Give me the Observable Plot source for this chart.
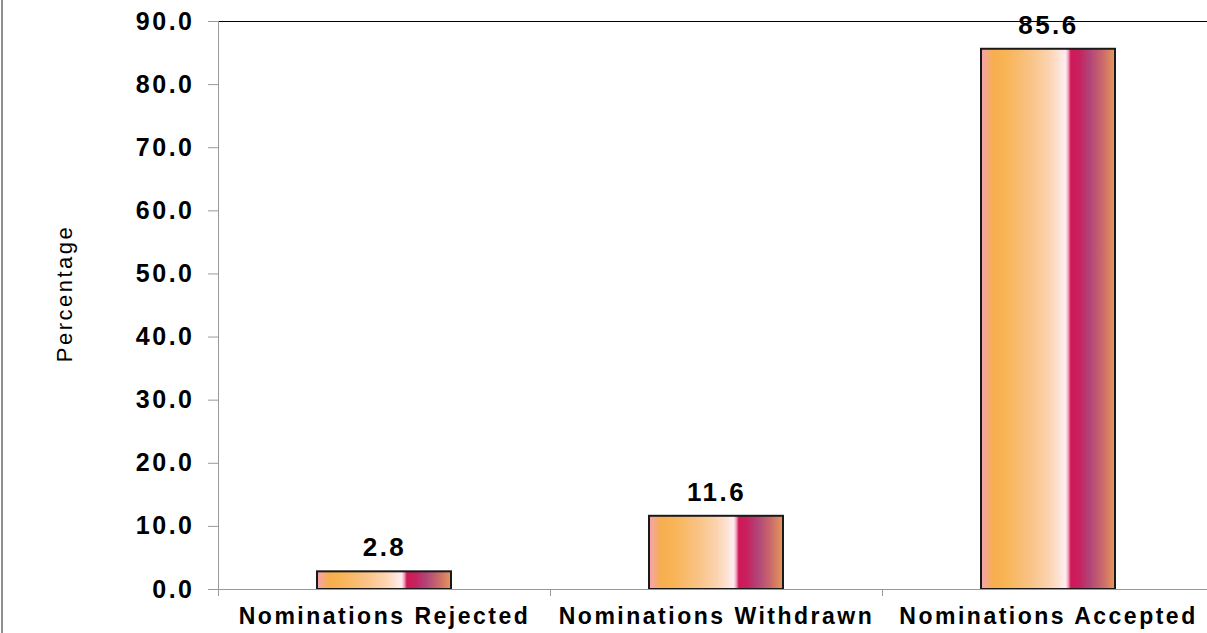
<!DOCTYPE html>
<html><head><meta charset="utf-8">
<script src="https://cdn.jsdelivr.net/npm/d3@7"></script>
<script src="https://cdn.jsdelivr.net/npm/@observablehq/plot@0.6"></script>
<style>
html,body{margin:0;padding:0;background:#fff;overflow:hidden;}
#chart{position:relative;width:1207px;height:633px;overflow:hidden;}
#chart svg{max-width:none !important;display:block;}
#chart svg text{letter-spacing:2.5px;}
#edge{position:absolute;left:1px;top:0;width:2px;height:633px;background:#8f8f8f;z-index:2;}
</style></head><body>
<div id="chart"><div id="edge"></div></div>
<script>
const categories = ["Nominations Rejected", "Nominations Withdrawn", "Nominations Accepted"];
const values = [2.8, 11.6, 85.6];
const yTicks = [0, 10, 20, 30, 40, 50, 60, 70, 80, 90];
const yLabel = "Percentage";

const gradientStops = [
  [0, "#f3a0b0"], [0.03, "#f5a890"], [0.09, "#f7ae4e"], [0.18, "#f8b455"],
  [0.37, "#f9c386"], [0.51, "#fcd4b0"], [0.58, "#fde2d4"], [0.63, "#fdeef2"],
  [0.65, "#f2a8c0"], [0.67, "#d01858"], [0.73, "#c8205e"], [0.81, "#b04478"],
  [0.9, "#c8666c"], [1, "#e6985a"]
];

const data = categories.map((category, i) => ({category, value: values[i], index: i}));
const boundaries = d3.range(categories.length + 1);
const centers = categories.map((c, i) => i + 0.5);

const plot = Plot.plot({
  width: 1214, height: 633,
  marginLeft: 218, marginRight: 0, marginTop: 21, marginBottom: 44,
  x: {type: "linear", domain: [0, categories.length]},
  y: {domain: [0, 90]},
  style: {fontFamily: "'Liberation Sans', Arial, sans-serif", color: "#000", background: "transparent",
    overflow: "visible", maxWidth: "none"},
  marks: [
    Plot.rectY(data, {x1: "index", x2: d => d.index + 1, y1: 0, y2: "value", insetLeft: 99, insetRight: 99,
      fill: "url(#barGradient)", stroke: "#1a1a1a", strokeWidth: 2}),
    Plot.ruleY([0], {stroke: "#999"}),
    Plot.ruleY([90], {stroke: "#000"}),
    Plot.ruleX([0], {stroke: "#999"}),
    Plot.axisY({ticks: yTicks, tickFormat: d => d.toFixed(1), tickSize: 10, tickPadding: 14, stroke: "#999",
      fontSize: 25, fontWeight: "bold", label: null}),
    Plot.axisX({ticks: boundaries, tickFormat: () => "", tickSize: 7, stroke: "#999", label: null}),
    Plot.axisX({ticks: centers, tickFormat: d => categories[Math.floor(d)], tickSize: 0, tickPadding: 18,
      fontSize: 23, fontWeight: "bold", label: null}),
    Plot.text(data, {x: d => d.index + 0.5, y: "value", text: d => d.value.toFixed(1), dy: -24,
      fontSize: 26, fontWeight: "bold"}),
    Plot.text([yLabel], {frameAnchor: "left", textAnchor: "middle", dx: -154, dy: -12, rotate: -90, fontSize: 22})
  ]
});

const svg = d3.select(plot);
const grad = svg.insert("defs", ":first-child").append("linearGradient")
  .attr("id", "barGradient").attr("x1", 0).attr("x2", 1).attr("y1", 0).attr("y2", 0);
gradientStops.forEach(([o, c]) => grad.append("stop").attr("offset", o).attr("stop-color", c));

document.getElementById("chart").appendChild(plot);
</script>
</body></html>
